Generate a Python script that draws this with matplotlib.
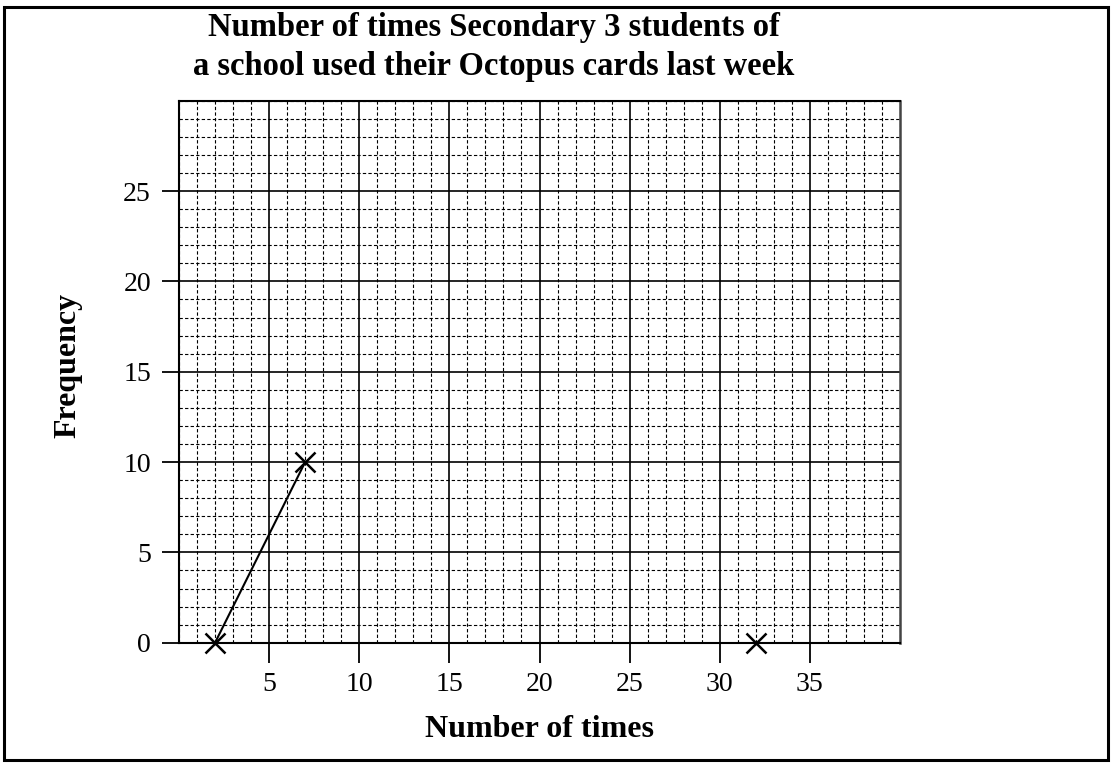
import matplotlib
matplotlib.use("Agg")
import matplotlib.pyplot as plt
from matplotlib.patches import Rectangle
from matplotlib.ticker import MultipleLocator, FixedLocator

# ---- data ----
line_x = [2, 7]
line_y = [0, 10]
end_x = [32]
end_y = [0]
x_ticks = [5, 10, 15, 20, 25, 30, 35]
y_ticks = [0, 5, 10, 15, 20, 25]
x_lim = (0, 40)
y_lim = (0, 30)
title = "Number of times Secondary 3 students of\na school used their Octopus cards last week"
x_label = "Number of times"
y_label = "Frequency"

plt.rcParams['font.family'] = ['Liberation Serif', 'DejaVu Serif']

fig = plt.figure(figsize=(11.12, 7.65), dpi=100)
ax = fig.add_axes([179/1112, 1 - 642.7/765, 721/1112, 542/765])

ax.set_xlim(*x_lim)
ax.set_ylim(*y_lim)
ax.xaxis.set_major_locator(FixedLocator(x_ticks))
ax.yaxis.set_major_locator(FixedLocator(y_ticks))
ax.xaxis.set_minor_locator(MultipleLocator(1))
ax.yaxis.set_minor_locator(MultipleLocator(1))

ax.set_axisbelow(True)
ax.grid(which='minor', color='black', linestyle=(0, (3, 2)), linewidth=0.8)
ax.grid(which='major', color='black', linestyle='-', linewidth=1.2)

ax.tick_params(which='minor', length=0)
ax.tick_params(axis='x', which='major', direction='out', length=14.4, width=1.3,
               pad=7, labelsize=20)
ax.tick_params(axis='y', which='major', direction='out', length=12.2, width=1.3,
               pad=8, labelsize=20)

for s in ['left', 'bottom', 'top']:
    ax.spines[s].set_linewidth(1.5)
    ax.spines[s].set_color('black')
ax.spines['right'].set_linewidth(1.8)
ax.spines['right'].set_color('#444444')

ax.plot(line_x, line_y, color='black', linewidth=1.5, zorder=3)
ax.plot(line_x, line_y, linestyle='none', marker='x', markersize=15,
        markeredgewidth=1.8, color='black', zorder=4, clip_on=False)
ax.plot(end_x, end_y, linestyle='none', marker='x', markersize=15,
        markeredgewidth=1.8, color='black', zorder=4, clip_on=False)

xl = ax.set_xlabel(x_label, fontsize=23, fontweight='bold')
xl.set_va('baseline')
ax.xaxis.set_label_coords(0.5, (642.7 - 737) / 542)
yl = ax.set_ylabel(y_label, fontsize=23, fontweight='bold')
yl.set_va('center')
ax.yaxis.set_label_coords((68 - 179) / 721, (642.7 - 365) / 542)

fig.text(494/1112, 1 - 47/765, title, ha='center', va='center',
         fontsize=23.5, fontweight='bold', linespacing=1.36)

fig.patches.append(Rectangle((3.5/1112, 1 - 760/765), (1108 - 3.5)/1112,
                             (760 - 7)/765, transform=fig.transFigure,
                             fill=False, edgecolor='black', linewidth=2.2))

fig.savefig("out.png", dpi=100)
